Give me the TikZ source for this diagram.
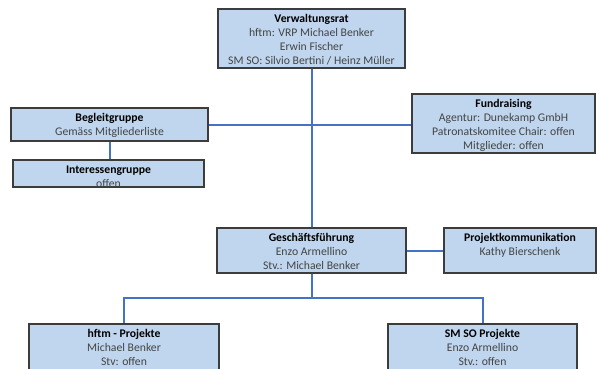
\documentclass[tikz,border=0pt]{standalone}
\usepackage{fontspec}
\setmainfont{Carlito}
\definecolor{boxfill}{HTML}{BFD6EE}
\definecolor{boxline}{HTML}{3C3C3C}
\definecolor{conn}{HTML}{4472C4}
\definecolor{txtgray}{HTML}{444444}
\tikzset{
  orgbox/.style={draw=boxline, fill=boxfill, line width=1.3pt, rectangle, inner sep=0pt},
  orgtxt/.style={anchor=north, align=center, inner sep=0pt, text=txtgray,
    font=\fontsize{11.7}{14}\selectfont},
  orgline/.style={draw=conn, line width=2pt},
}
\newcommand{\ttl}[1]{\rule{0pt}{10pt}\textcolor{black}{\textbf{#1}}}
\begin{document}
\begin{tikzpicture}[x=1pt,y=-1pt]
\clip (0,0) rectangle (600,368);
\fill[white] (0,0) rectangle (600,368);
\coordinate (j) at (311.5,298);
% boxes
\node[orgbox, minimum width=187pt, minimum height=59pt] (vr) at (311.5,38.5) {};
\node[orgbox, minimum width=197pt, minimum height=33pt] (bg) at (109.5,124.5) {};
\node[orgbox, minimum width=191pt, minimum height=27pt] (ig) at (108.5,173.5) {};
\node[orgbox, minimum width=183pt, minimum height=59pt] (fr) at (503.5,123.5) {};
\node[orgbox, minimum width=189pt, minimum height=45pt] (gf) at (311.5,250.5) {};
\node[orgbox, minimum width=152pt, minimum height=45pt] (pk) at (520,250.5) {};
\node[orgbox, minimum width=190pt, minimum height=60pt] (hf) at (124,354) {};
\node[orgbox, minimum width=189pt, minimum height=60pt] (sm) at (482.5,354) {};
% lines
\draw[orgline] (vr.south) -- (gf.north);
\draw[orgline] (bg.east) -- (fr.west |- bg.east);
\draw[orgline] (bg.south) -- (bg.south |- ig.north);
\draw[orgline] (gf.east) -- (pk.west);
\draw[orgline] (gf.south) -- (j);
\draw[orgline] (hf.north) |- (j) -| (sm.north);
% texts
\node[orgtxt] (vrt) at ([yshift=-4pt]vr.north) {\ttl{Verwaltungsrat}\\hftm: VRP Michael Benker\\Erwin Fischer\\SM SO: Silvio Bertini / Heinz Müller};
\node[orgtxt] (bgt) at ([yshift=-4pt]bg.north) {\ttl{Begleitgruppe}\\Gemäss Mitgliederliste};
\node[orgtxt] (igt) at ([yshift=-4pt]ig.north) {\ttl{Interessengruppe}\\offen};
\node[orgtxt] (frt) at ([yshift=-4pt]fr.north) {\ttl{Fundraising}\\Agentur: Dunekamp GmbH\\Patronatskomitee Chair: offen\\Mitglieder: offen};
\node[orgtxt] (gft) at ([yshift=-4pt]gf.north) {\ttl{Geschäftsführung}\\Enzo Armellino\\Stv.: Michael Benker};
\node[orgtxt] (pkt) at ([yshift=-4pt]pk.north) {\ttl{Projektkommunikation}\\Kathy Bierschenk};
\node[orgtxt] (hft) at ([yshift=-4pt]hf.north) {\ttl{hftm - Projekte}\\Michael Benker\\Stv: offen};
\node[orgtxt] (smt) at ([yshift=-4pt]sm.north) {\ttl{SM SO Projekte}\\Enzo Armellino\\Stv.: offen};
\end{tikzpicture}
\end{document}
